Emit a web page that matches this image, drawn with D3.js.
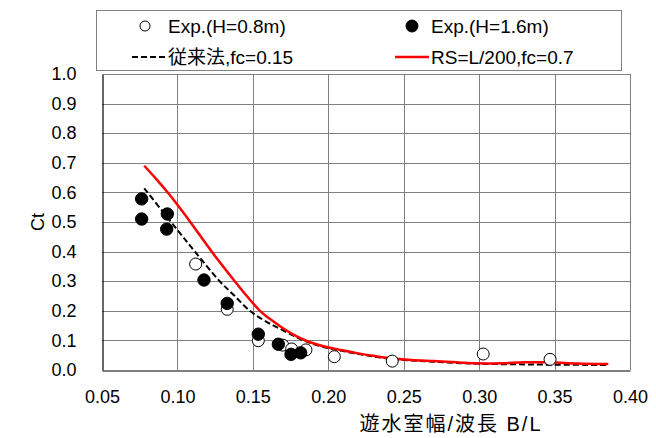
<!DOCTYPE html>
<html>
<head>
<meta charset="utf-8">
<script src="https://cdn.jsdelivr.net/npm/d3@7"></script>
<style>
	body { margin: 0; background: #fff; }
	svg text { font-family: 'Liberation Sans', 'Noto Sans CJK JP', sans-serif; fill: #000; }
</style>
</head>
<body>
<svg id="chart" width="656" height="438"></svg>
<script>
'use strict';

// experiment H=0.8m (open)
let expLowX = [0.1121, 0.1330, 0.1536, 0.1698, 0.1757, 0.1852, 0.2040, 0.2424, 0.3027, 0.3470];
let expLowY = [0.358, 0.205, 0.099, 0.084, 0.071, 0.068, 0.045, 0.030, 0.054, 0.036];

// experiment H=1.6m (filled)
let expHighX = [0.0763, 0.0763, 0.0933, 0.0929, 0.1176, 0.1330, 0.1536, 0.1669, 0.1753, 0.1817];
let expHighY = [0.578, 0.510, 0.527, 0.476, 0.304, 0.225, 0.121, 0.087, 0.053, 0.058];

// 従来法 fc=0.15
let convX = [0.078, 0.090, 0.1017, 0.1116, 0.128, 0.138, 0.148, 0.158, 0.168, 0.1785, 0.1857, 0.1967, 0.2078, 0.2188, 0.2298, 0.241, 0.255, 0.270, 0.285, 0.300, 0.330, 0.347, 0.3856];
let convY = [0.614, 0.537, 0.462, 0.400, 0.300, 0.250, 0.200, 0.166, 0.139, 0.112, 0.096, 0.078, 0.066, 0.055, 0.046, 0.038, 0.032, 0.028, 0.024, 0.021, 0.019, 0.018, 0.017];

// RS=L/200 fc=0.7
let rsX = [0.078, 0.086, 0.094, 0.1015, 0.109, 0.1227, 0.138, 0.146, 0.1547, 0.163, 0.170, 0.1785, 0.1857, 0.1967, 0.2078, 0.2188, 0.2298, 0.241, 0.255, 0.270, 0.285, 0.300, 0.315, 0.330, 0.347, 0.365, 0.3856];
let rsY = [0.690, 0.645, 0.597, 0.548, 0.497, 0.400, 0.300, 0.250, 0.200, 0.166, 0.141, 0.115, 0.098, 0.080, 0.068, 0.057, 0.048, 0.040, 0.034, 0.030, 0.026, 0.0225, 0.023, 0.026, 0.026, 0.022, 0.020];

let xTicks = [0.05, 0.10, 0.15, 0.20, 0.25, 0.30, 0.35, 0.40];
let yTicks = [0.0, 0.1, 0.2, 0.3, 0.4, 0.5, 0.6, 0.7, 0.8, 0.9, 1.0];

let legendItems = [
	{ label: 'Exp.(H=0.8m)', kind: 'open', col: 0, row: 0 },
	{ label: 'Exp.(H=1.6m)', kind: 'filled', col: 1, row: 0 },
	{ label: '従来法,fc=0.15', kind: 'dash', col: 0, row: 1 },
	{ label: 'RS=L/200,fc=0.7', kind: 'red', col: 1, row: 1 }
];

let plot = { left: 102, top: 74, width: 528, height: 296 };
let fontSize = 18;

let svg = d3.select('#chart');

let x = d3.scaleLinear().domain([0.05, 0.40]).range([plot.left, plot.left + plot.width]);
let y = d3.scaleLinear().domain([0, 1]).range([plot.top + plot.height, plot.top]);

let zip = (xs, ys) => xs.map((v, i) => [v, ys[i]]);

// grid
let grid = svg.append('g').attr('shape-rendering', 'crispEdges');

grid.selectAll('line.gx')
	.data(xTicks.slice(1))
	.enter().append('line')
	.attr('x1', d => Math.round(x(d)) + 0.5)
	.attr('x2', d => Math.round(x(d)) + 0.5)
	.attr('y1', plot.top)
	.attr('y2', plot.top + plot.height)
	.attr('stroke', '#808080');

grid.selectAll('line.gy')
	.data(yTicks.slice(1))
	.enter().append('line')
	.attr('x1', plot.left)
	.attr('x2', plot.left + plot.width)
	.attr('y1', d => Math.round(y(d)) + 0.5)
	.attr('y2', d => Math.round(y(d)) + 0.5)
	.attr('stroke', '#808080');

// axes
let xAxis = svg.append('g')
	.attr('transform', `translate(0,${plot.top + plot.height + 0.5})`)
	.call(d3.axisBottom(x).tickValues(xTicks).tickFormat(d3.format('.2f')).tickSize(0).tickPadding(18));

let yAxis = svg.append('g')
	.attr('transform', `translate(${plot.left + 0.5},0)`)
	.call(d3.axisLeft(y).tickValues(yTicks).tickFormat(d3.format('.1f')).tickSize(0).tickPadding(26));

[xAxis, yAxis].forEach(ax => {
	ax.select('.domain').attr('stroke', '#000').attr('stroke-width', 1.2);
	ax.selectAll('text').attr('font-size', fontSize).attr('font-family', null);
});
xAxis.selectAll('text').attr('dy', '0.35em').attr('y', 26);
yAxis.selectAll('text').attr('x', -26);

svg.append('text')
	.attr('x', 451)
	.attr('y', 424)
	.attr('text-anchor', 'middle')
	.attr('dominant-baseline', 'central')
	.attr('font-size', 20)
	.attr('letter-spacing', 2)
	.text('遊水室幅/波長 B/L');

svg.append('text')
	.attr('transform', 'translate(38,222) rotate(-90)')
	.attr('text-anchor', 'middle')
	.attr('dominant-baseline', 'central')
	.attr('font-size', fontSize)
	.text('Ct');

// lines
let line = d3.line().x(d => x(d[0])).y(d => y(d[1])).curve(d3.curveCatmullRom.alpha(0.5));

svg.append('path')
	.attr('d', line(zip(convX, convY)))
	.attr('fill', 'none')
	.attr('stroke', '#000')
	.attr('stroke-width', 2)
	.attr('stroke-dasharray', '6,3');

svg.append('path')
	.attr('d', line(zip(rsX, rsY)))
	.attr('fill', 'none')
	.attr('stroke', '#ff0000')
	.attr('stroke-width', 2.5);

// markers
svg.append('g').selectAll('circle')
	.data(zip(expLowX, expLowY))
	.enter().append('circle')
	.attr('cx', d => x(d[0]))
	.attr('cy', d => y(d[1]))
	.attr('r', 6)
	.attr('fill', '#fff')
	.attr('stroke', '#000')
	.attr('stroke-width', 1);

svg.append('g').selectAll('circle')
	.data(zip(expHighX, expHighY))
	.enter().append('circle')
	.attr('cx', d => x(d[0]))
	.attr('cy', d => y(d[1]))
	.attr('r', 6.2)
	.attr('fill', '#000')
	.attr('stroke', '#000')
	.attr('stroke-width', 1);

// plot frame (top, right)
svg.append('path')
	.attr('d', `M${plot.left},${plot.top + 0.5}H${plot.left + plot.width + 0.5}V${plot.top + plot.height}`)
	.attr('fill', 'none')
	.attr('stroke', '#808080')
	.attr('shape-rendering', 'crispEdges');

// legend
let legend = svg.append('g');

legend.append('rect')
	.attr('x', 96.5)
	.attr('y', 10.5)
	.attr('width', 525)
	.attr('height', 60)
	.attr('fill', '#fff')
	.attr('stroke', '#808080');

let colSymbol = [145, 412];
let colText = [168, 431];
let rowY = [26, 57];

legendItems.forEach(item => {
	let cx = colSymbol[item.col];
	let cy = rowY[item.row];
	let g = legend.append('g');

	if (item.kind === 'open' || item.kind === 'filled') {
		g.append('circle')
			.attr('cx', cx)
			.attr('cy', cy)
			.attr('r', item.kind === 'open' ? 5 : 6)
			.attr('fill', item.kind === 'open' ? '#fff' : '#000')
			.attr('stroke', '#000');
	} else {
		g.append('line')
			.attr('x1', item.kind === 'dash' ? 132 : 395)
			.attr('x2', item.kind === 'dash' ? 165 : 429)
			.attr('y1', cy)
			.attr('y2', cy)
			.attr('stroke', item.kind === 'dash' ? '#000' : '#ff0000')
			.attr('stroke-width', item.kind === 'dash' ? 2 : 2.5)
			.attr('stroke-dasharray', item.kind === 'dash' ? '6,3' : null);
	}

	g.append('text')
		.attr('x', colText[item.col])
		.attr('y', cy)
		.attr('dominant-baseline', 'central')
		.attr('font-size', 19)
		.text(item.label);
});
</script>
</body>
</html>
